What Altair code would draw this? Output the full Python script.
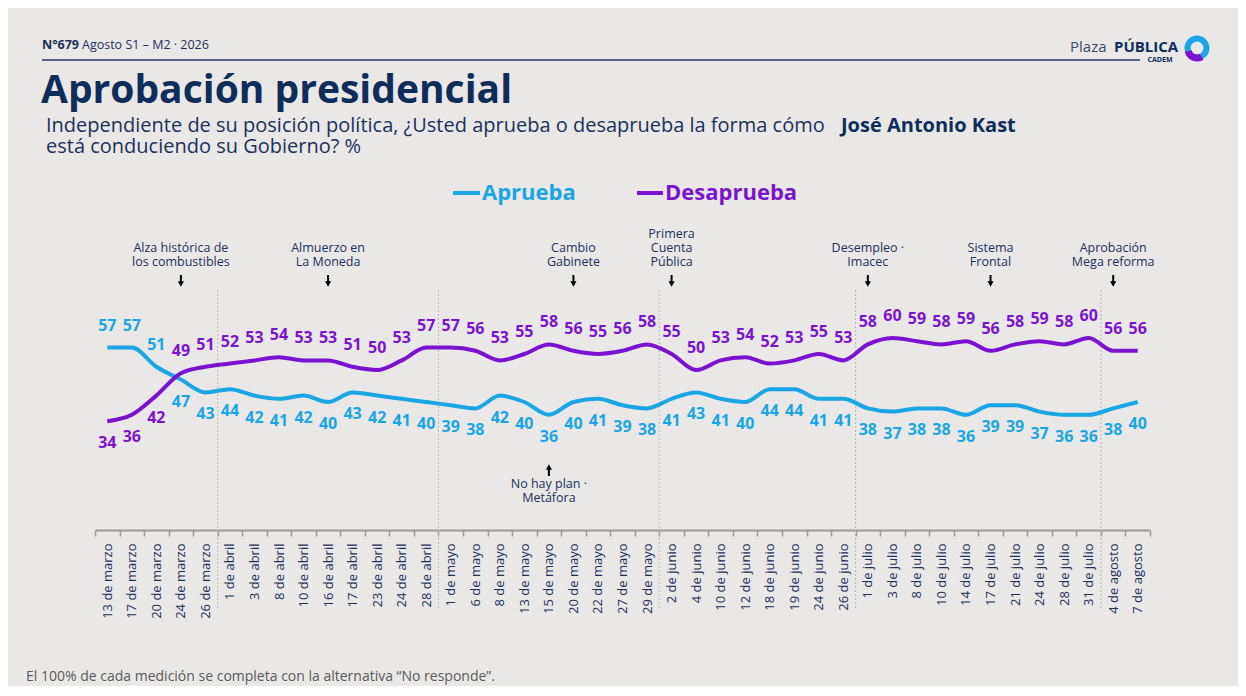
import altair as alt
import pandas as pd

# datos
fechas = [
    "13 de marzo", "17 de marzo", "20 de marzo", "24 de marzo", "26 de marzo",
    "1 de abril", "3 de abril", "8 de abril", "10 de abril", "16 de abril",
    "17 de abril", "23 de abril", "24 de abril", "28 de abril",
    "1 de mayo", "6 de mayo", "8 de mayo", "13 de mayo", "15 de mayo",
    "20 de mayo", "22 de mayo", "27 de mayo", "29 de mayo",
    "2 de junio", "4 de junio", "10 de junio", "12 de junio", "18 de junio",
    "19 de junio", "24 de junio", "26 de junio",
    "1 de julio", "3 de julio", "8 de julio", "10 de julio", "14 de julio",
    "17 de julio", "21 de julio", "24 de julio", "28 de julio", "31 de julio",
    "4 de agosto", "7 de agosto",
]
aprueba = [57, 57, 51, 47, 43,
           44, 42, 41, 42, 40, 43, 42, 41, 40,
           39, 38, 42, 40, 36, 40, 41, 39, 38,
           41, 43, 41, 40, 44, 44, 41, 41,
           38, 37, 38, 38, 36, 39, 39, 37, 36, 36,
           38, 40]
desaprueba = [34, 36, 42, 49, 51,
              52, 53, 54, 53, 53, 51, 50, 53, 57,
              57, 56, 53, 55, 58, 56, 55, 56, 58,
              55, 50, 53, 54, 52, 53, 55, 53,
              58, 60, 59, 58, 59, 56, 58, 59, 58, 60,
              56, 56]
eventos_fecha = ["24 de marzo", "16 de abril", "20 de mayo", "2 de junio",
                 "1 de julio", "17 de julio", "4 de agosto"]
eventos_texto = ["Alza histórica de\nlos combustibles", "Almuerzo en\nLa Moneda",
                 "Cambio\nGabinete", "Primera\nCuenta\nPública", "Desempleo ·\nImacec",
                 "Sistema\nFrontal", "Aprobación\nMega reforma"]
eventos_abajo_fecha = ["15 de mayo"]
eventos_abajo_texto = ["No hay plan ·\nMetáfora"]
series = ["Aprueba", "Desaprueba"]

AZUL = "#1aa6e4"
MORADO = "#7b12cf"
NAVY = "#0f2d5a"
TEXTO = "#1d3059"
FONDO = "#e9e8e7"
FUENTE = "Open Sans"

W, H = 1055, 350      # area del grafico
L, T = 95, 180        # origen absoluto del area


def ax(x):
    return x - L


def ay(y):
    return y - T


filas = []
for i, f in enumerate(fechas):
    a, d = aprueba[i], desaprueba[i]
    filas.append({"fecha": f, "serie": "Aprueba", "valor": a, "pos": "arriba" if a > d else "abajo"})
    filas.append({"fecha": f, "serie": "Desaprueba", "valor": d, "pos": "arriba" if d > a else "abajo"})
df = pd.DataFrame(filas)

meses = [f.split(" de ")[1] for f in fechas]
dfMes = pd.DataFrame({"fecha": [f for i, f in enumerate(fechas) if i > 0 and meses[i] != meses[i - 1]]})
dfEv = pd.DataFrame({"fecha": eventos_fecha, "texto": eventos_texto})
dfEvAbajo = pd.DataFrame({"fecha": eventos_abajo_fecha, "texto": eventos_abajo_texto})

escalaX = alt.Scale(type="band", domain=fechas, paddingInner=0, paddingOuter=0)
escalaY = alt.Scale(domain=[0, H / 3.2])
colores = alt.Scale(domain=series, range=[AZUL, MORADO])

ejeX = alt.Axis(labelAngle=270, labelAlign="right", labelBaseline="middle", labelPadding=7,
                labelFont=FUENTE, labelFontSize=13, labelColor=TEXTO, tickBand="extent",
                tickSize=6, tickColor="#9a9a9a", tickWidth=1.5, domainColor="#9a9a9a",
                domainWidth=2, grid=False, labelOverlap=False)


def xEnc(banda=0.5):
    return alt.X("fecha:N", scale=escalaX, bandPosition=banda, axis=ejeX, title=None)


separadores = alt.Chart(dfMes).mark_rule(color="#b5b5b5", strokeWidth=1, strokeDash=[2, 2]).encode(
    x=xEnc(banda=0), y=alt.value(ay(290)), y2=alt.value(H + 78))

lineas = alt.Chart(df).mark_line(interpolate="monotone", strokeWidth=4).encode(
    x=xEnc(),
    y=alt.Y("valor:Q", scale=escalaY, axis=None),
    color=alt.Color("serie:N", scale=colores, legend=None))

etiqArriba = alt.Chart(df).transform_filter("datum.pos == 'arriba'").mark_text(
    font=FUENTE, fontSize=16, fontWeight="bold", dy=-22).encode(
    x=xEnc(), y=alt.Y("valor:Q", scale=escalaY, axis=None),
    text="valor:Q", color=alt.Color("serie:N", scale=colores, legend=None))

etiqAbajo = alt.Chart(df).transform_filter("datum.pos == 'abajo'").mark_text(
    font=FUENTE, fontSize=16, fontWeight="bold", dy=22).encode(
    x=xEnc(), y=alt.Y("valor:Q", scale=escalaY, axis=None),
    text="valor:Q", color=alt.Color("serie:N", scale=colores, legend=None))


def notas(datos, filtro, y):
    return alt.Chart(datos).transform_filter(filtro).mark_text(
        font=FUENTE, fontSize=12.5, color=TEXTO, lineBreak="\n", baseline="middle", lineHeight=14).encode(
        x=xEnc(), y=alt.value(ay(y)), text="texto:N")


eventos2 = notas(dfEv, "split(datum.texto, '\\n').length == 2", 248)
eventos3 = notas(dfEv, "split(datum.texto, '\\n').length == 3", 234)
eventosAbajo = notas(dfEvAbajo, "true", 484)

# flechas: tallo + punta
talloAbajo = alt.Chart(dfEv).mark_rule(color="black", strokeWidth=2).encode(
    x=xEnc(), y=alt.value(ay(275)), y2=alt.value(ay(283)))
puntaAbajo = alt.Chart(dfEv).mark_point(shape="triangle-down", filled=True, size=38, color="black", opacity=1).encode(
    x=xEnc(), y=alt.value(ay(284)))
talloArriba = alt.Chart(dfEvAbajo).mark_rule(color="black", strokeWidth=2).encode(
    x=xEnc(), y=alt.value(ay(468)), y2=alt.value(ay(476)))
puntaArriba = alt.Chart(dfEvAbajo).mark_point(shape="triangle-up", filled=True, size=38, color="black", opacity=1).encode(
    x=xEnc(), y=alt.value(ay(467)))


def texto(t, x, y, size, color=TEXTO, weight="normal", align="left", font=FUENTE):
    return alt.Chart(pd.DataFrame({"t": [t]})).mark_text(
        font=font, fontSize=size, fontWeight=weight, color=color, align=align, baseline="alphabetic").encode(
        x=alt.value(ax(x)), y=alt.value(ay(y)), text="t:N")


def raya(x1, x2, y, color, ancho):
    return alt.Chart(pd.DataFrame({"c": [color]})).mark_rule(color=color, strokeWidth=ancho).encode(
        x=alt.value(ax(x1)), x2=alt.value(ax(x2)), y=alt.value(ay(y)))


def arco(x, y, r1, r2, t1, t2, color):
    return alt.Chart(pd.DataFrame({"c": [color]})).mark_arc(
        radius=r1, radius2=r2, theta=t1, theta2=t2, color=color).encode(
        x=alt.value(ax(x)), y=alt.value(ay(y)))


cabecera = [
    texto("N°679", 42, 49, 12.5, weight="bold"),
    texto("Agosto S1 – M2 · 2026", 82, 49, 12.5),
    raya(42, 1140, 60, "#2a3460", 1.5),
    texto("Plaza", 1070, 52, 15, color="#3b4868"),
    texto("PÚBLICA", 1114, 52, 15, color=NAVY, weight="bold"),
    texto("CADEM", 1160, 62, 7, color=NAVY, weight="bold", align="center"),
    arco(1197, 48, 12.5, 6.5, 0, 6.2832, AZUL),
    arco(1197, 49, 12.5, 5.5, 2.6, 4.5, MORADO),
    texto("Aprobación presidencial", 41, 103, 39, color=NAVY, weight="bold"),
    texto("Independiente de su posición política, ¿Usted aprueba o desaprueba la forma cómo", 46, 132, 20),
    texto("José Antonio Kast", 841, 132, 20, color=NAVY, weight="bold"),
    texto("está conduciendo su Gobierno? %", 46, 153, 20),
    raya(453, 480, 193, AZUL, 4),
    texto("Aprueba", 482, 200, 22, color=AZUL, weight="bold"),
    raya(637, 663, 193, MORADO, 4),
    texto("Desaprueba", 665, 200, 22, color=MORADO, weight="bold"),
    texto("El 100% de cada medición se completa con la alternativa “No responde”.", 26, 681, 14, color="#5a5a5a"),
]

chart = alt.layer(separadores, lineas, etiqArriba, etiqAbajo, eventos2, eventos3, eventosAbajo,
                  talloAbajo, puntaAbajo, talloArriba, puntaArriba, *cabecera).properties(
    width=W, height=H, background=FONDO,
    autosize=alt.AutoSizeParams(type="none"),
    padding={"left": L - 8, "top": T - 8, "right": 88, "bottom": 156},
).configure_view(stroke=None)

chart.save("out.html", embed_options={"renderer": "svg", "actions": False})
